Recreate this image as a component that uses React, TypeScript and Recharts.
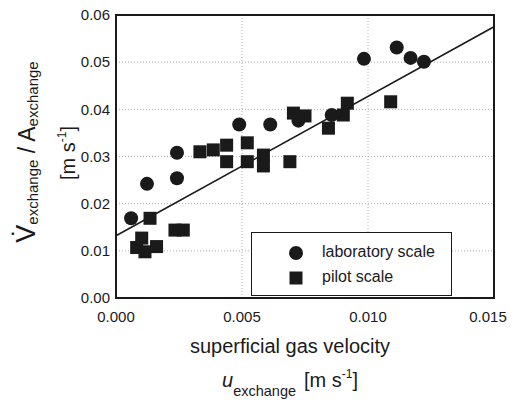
import React from "react";
import {
  CartesianGrid,
  Legend,
  ReferenceArea,
  ReferenceLine,
  Scatter,
  ScatterChart,
  XAxis,
  YAxis,
} from "recharts";

// laboratory scale (circles)
const labX = [0.0006, 0.00123, 0.00242, 0.00242, 0.00489, 0.00612, 0.00724, 0.00856, 0.00984, 0.01114, 0.01169, 0.01222];
const labY = [0.0169, 0.0242, 0.0254, 0.0308, 0.0368, 0.0368, 0.0376, 0.0388, 0.0507, 0.0531, 0.0509, 0.0501];

// pilot scale (squares)
const pilotX = [
  0.00082, 0.00102, 0.00115, 0.00161, 0.00135, 0.00234, 0.00267, 0.00333, 0.00386, 0.00439, 0.00439,
  0.00521, 0.00521, 0.00585, 0.00585, 0.0069, 0.00704, 0.0075, 0.00843, 0.00902, 0.00918, 0.0109,
];
const pilotY = [
  0.0107, 0.0127, 0.0098, 0.0109, 0.0169, 0.0144, 0.0144, 0.031, 0.0314, 0.0324, 0.0289,
  0.0329, 0.0289, 0.0303, 0.028, 0.0289, 0.0392, 0.0386, 0.036, 0.0388, 0.0413, 0.0416,
];

// linear fit
const fitStart = { x: 0, y: 0.0132 };
const fitEnd = { x: 0.015, y: 0.0575 };

const xTicks = [0, 0.005, 0.01, 0.015];
const yTicks = [0, 0.01, 0.02, 0.03, 0.04, 0.05, 0.06];

const labData = labX.map((x, i) => ({ x, y: labY[i] }));
const pilotData = pilotX.map((x, i) => ({ x, y: pilotY[i] }));

const FONT = '"Liberation Sans", Arial, Helvetica, sans-serif';
const INK = "#1a1a1a";

const Dot = (props: any) => <circle cx={props.cx} cy={props.cy} r={7} fill={INK} />;
const Box = (props: any) => (
  <rect x={props.cx - 6.5} y={props.cy - 6.5} width={13} height={13} fill={INK} />
);

const XTick = (props: any) => {
  const { x, y, payload, index } = props;
  return (
    <text
      x={x + (index === xTicks.length - 1 ? -6 : 0)}
      y={y}
      dy="0.71em"
      textAnchor="middle"
      fontSize={15}
      fontFamily={FONT}
      fill={INK}
    >
      {Number(payload.value).toFixed(3)}
    </text>
  );
};

const LegendBox = () => (
  <div
    style={{
      width: 201,
      height: 64,
      boxSizing: "border-box",
      border: `1.5px solid ${INK}`,
      background: "#fff",
      fontFamily: FONT,
      fontSize: 16,
      color: INK,
      position: "relative",
    }}
  >
    <svg width={60} height={64} style={{ position: "absolute", left: 0, top: 0 }}>
      <circle cx={44} cy={20} r={7} fill={INK} />
      <rect x={37.5} y={38.5} width={13} height={13} fill={INK} />
    </svg>
    <div style={{ position: "absolute", left: 70, top: 10 }}>laboratory scale</div>
    <div style={{ position: "absolute", left: 70, top: 35 }}>pilot scale</div>
  </div>
);

export default function App() {
  return (
    <div style={{ position: "absolute", left: 0, top: 0, width: 516, height: 404, background: "#fff" }}>
      <ScatterChart width={516} height={404} margin={{ top: 15, right: 22, left: 56, bottom: 76 }}>
        <CartesianGrid stroke="#999" strokeDasharray="1 2" strokeWidth={0.8} />
        <XAxis
          type="number"
          dataKey="x"
          domain={[0, 0.015]}
          ticks={xTicks}
          axisLine={false}
          tickLine={false}
          tickSize={6}
          tickMargin={7}
          height={30}
          tick={<XTick />}
        />
        <YAxis
          type="number"
          dataKey="y"
          domain={[0, 0.06]}
          ticks={yTicks}
          axisLine={false}
          tickLine={false}
          tickSize={4}
          tickMargin={2}
          width={60}
          tickFormatter={(v: number) => v.toFixed(2)}
          tick={{ fontSize: 15, fontFamily: FONT, fill: INK }}
        />
        <ReferenceLine
          segment={[fitStart, fitEnd]}
          stroke={INK}
          strokeWidth={1.6}
        />
        <Scatter name="laboratory scale" data={labData} shape={<Dot />} isAnimationActive={false} />
        <Scatter name="pilot scale" data={pilotData} shape={<Box />} isAnimationActive={false} />
        <ReferenceArea
          x1={0}
          x2={0.015}
          y1={0}
          y2={0.06}
          fill="none"
          fillOpacity={0}
          stroke={INK}
          strokeWidth={2}
        />
        <Legend
          layout="horizontal"
          verticalAlign="middle"
          align="center"
          content={<LegendBox />}
          wrapperStyle={{ position: "absolute", left: 251, top: 232, width: 201, height: 64 }}
        />
        <text
          x={35}
          y={152}
          transform="rotate(-90 35 152)"
          textAnchor="middle"
          fontFamily={FONT}
          fill={INK}
          fontSize={23}
        >
          <tspan fontSize={27}>{"V\u0307"}</tspan>
          <tspan fontSize={15} dy={3}>exchange</tspan>
          <tspan dy={-3}> / A</tspan>
          <tspan fontSize={15} dy={3}>exchange</tspan>
        </text>
        <text
          x={75}
          y={153}
          transform="rotate(-90 75 153)"
          textAnchor="middle"
          fontFamily={FONT}
          fill={INK}
          fontSize={20}
        >
          <tspan>[m s</tspan>
          <tspan fontSize={12} dy={-9}>-1</tspan>
          <tspan dy={9}>]</tspan>
        </text>
        <text x={290} y={353} textAnchor="middle" fontFamily={FONT} fill={INK} fontSize={20}>
          superficial gas velocity
        </text>
        <text x={222} y={387} fontFamily={FONT} fill={INK} fontSize={20}>
          <tspan fontStyle="italic">u</tspan>
          <tspan fontSize={14.5} dy={9}>exchange</tspan>
          <tspan dx={8} dy={-9}>[m s</tspan>
          <tspan fontSize={12} dy={-9}>-1</tspan>
          <tspan dy={9}>]</tspan>
        </text>
      </ScatterChart>
    </div>
  );
}
